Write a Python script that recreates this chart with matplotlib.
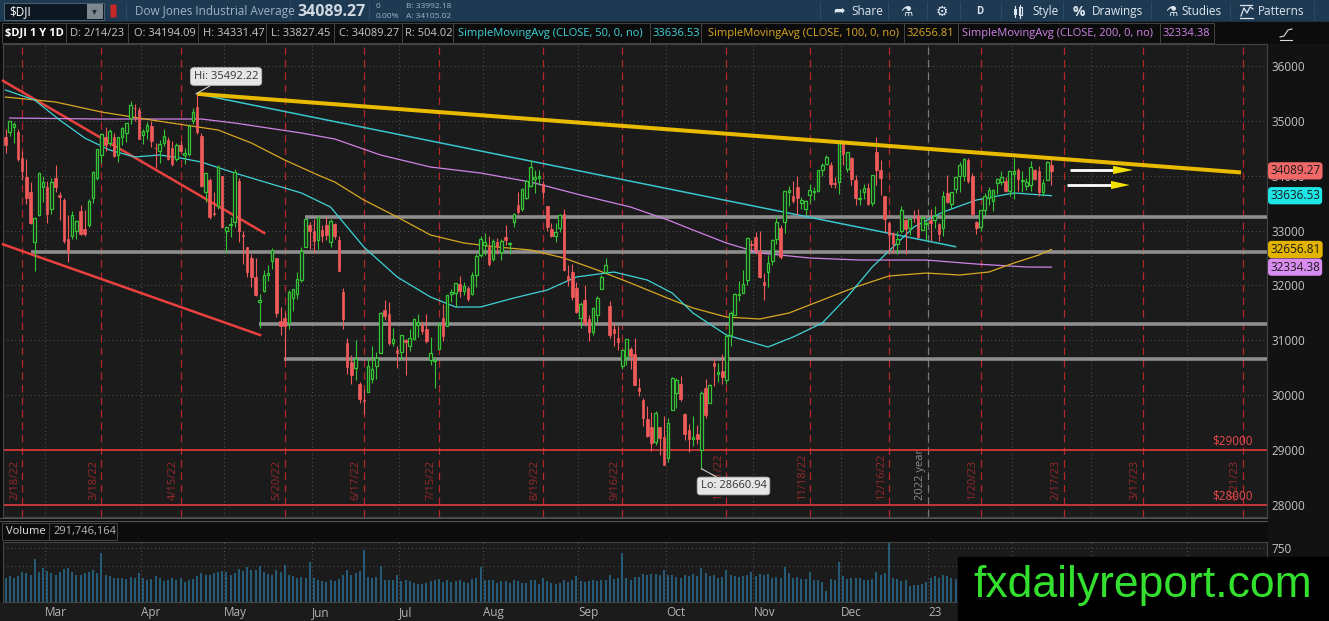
import matplotlib
matplotlib.use("Agg")
import matplotlib.pyplot as plt
from matplotlib.patches import Rectangle, FancyBboxPatch
import numpy as np
import pandas as pd

W, H = 1329, 621

# ---- data: $DJI daily bars, 2/14/22 .. 2/14/23 ----
opens = [
    34700, 34800, 34890, 34800, 34330, 33980, 33700, 32800, 33280, 33800,
    33790, 33400, 33950, 33650, 33550, 32850, 32900, 33000, 33350, 33030, 33100, 33600, 33950, 34380, 34700, 34600, 34700, 34370, 34700, 34780, 35050, 35230, 35200,
    34740, 34810, 34900, 34500, 34450, 34600, 34660, 34500, 34300, 34560, 34380, 34400, 35000, 35250, 34730, 33700, 33920, 33330, 33450, 33990,
    33000, 33100, 33150, 33900, 32900, 32700, 32500, 32150, 31700, 31900, 32200, 32450, 32500, 31360, 31400, 31320, 31770, 31840, 32100, 32700, 33100,
    33000, 32830, 33020, 33100, 32800, 33120, 32830, 31880, 30950, 30600, 30500, 30200, 29910, 30050, 30290, 30530, 30770, 31550, 31480, 30960, 30820,
    30780, 31000, 30900, 31020, 31280, 31280, 31200, 30650, 30630, 30850, 31400, 31260, 31840, 31860, 32020, 31900, 31960, 31850, 32200, 32560,
    32730, 32700, 32480, 32800, 32610, 32880, 32760, 33150, 33460, 33400, 33600, 33820, 33940, 33950, 33850, 33450, 33030, 32900, 33050, 33300, 32170, 32250, 31960,
    31410, 31740, 31390, 31150, 31470, 31930, 32250, 31630, 31200, 31040, 30540, 30700, 30850, 30760, 30130, 29920, 29560, 29420, 29140, 29430, 29230,
    28860, 29740, 30040, 30210, 29660, 29360, 29200, 29290, 29010, 30130, 29860, 30580, 30380, 30440, 30280, 31100, 31470, 31820, 31870, 32100, 32750,
    32880, 32630, 32070, 32240, 32450, 32850, 33040, 33160, 33700, 33630, 33800, 33500, 33400, 33650, 33700, 33730, 34100, 34220, 34200, 33870, 33880,
    34600, 34130, 34330, 33920, 33580, 33700, 33780, 33500, 34430, 34100, 33630, 33140, 32950, 32760, 32990, 33200, 33050, 33250, 33260, 33020, 33120,
    33200, 33200, 33120, 33040, 33680, 33480, 33750, 34000, 34000, 34290, 33990, 33160, 33060, 33370, 33600, 33540, 33870, 33890, 33900, 33730,
    34040, 34100, 33900, 33810, 33840, 34100, 34080, 33710, 33920, 34194.09,
]
highs = [
    34860, 35000, 34980, 34860, 34450, 34300, 33880, 33250, 34070, 34000,
    33910, 33950, 34200, 33700, 33600, 33280, 33350, 33200, 33470, 33370, 33570, 34090, 34490, 34770, 34880, 34860, 34770, 34710, 34890, 34960, 35370, 35300, 35250,
    34850, 34980, 34990, 34600, 34650, 34850, 34700, 34640, 34600, 34640, 34510, 34950, 35240, 35492.22, 34780, 34050, 33960, 33700, 34200, 34000,
    33080, 33250, 34120, 33950, 33000, 32700, 32570, 32510, 31840, 32290, 32380, 32680, 32500, 31600, 31520, 31910, 31930, 32240, 32700, 33220, 33150,
    33220, 33250, 33100, 33250, 33220, 33140, 32900, 31950, 31050, 30730, 31000, 30250, 30110, 30670, 30900, 30790, 31520, 31730, 31700, 31230, 30900,
    31100, 31020, 31200, 31400, 31480, 31350, 31480, 31070, 30670, 31330, 31660, 31830, 31940, 32050, 32180, 32070, 31990, 32240, 32580, 32900,
    32960, 32900, 32840, 32860, 32840, 33110, 32800, 33320, 33700, 33770, 33930, 34280, 34100, 34110, 33900, 33450, 33130, 33130, 33300, 33400, 32370, 32400, 32060,
    31700, 32000, 31460, 31600, 31800, 32200, 32500, 31720, 31300, 31270, 30830, 31030, 30880, 31040, 30320, 29950, 29810, 29700, 29720, 29430, 29620,
    29580, 30330, 30310, 30350, 29680, 29470, 29620, 29460, 30080, 30300, 30210, 30670, 30580, 30750, 31120, 31530, 31860, 32080, 32290, 32890, 32820,
    32970, 33000, 32230, 32560, 32840, 33260, 33110, 33730, 33810, 33910, 33990, 33620, 33560, 33850, 33800, 34100, 34240, 34380, 34250, 33980, 34590,
    34600, 34440, 34340, 34020, 33760, 33850, 33860, 34010, 34712, 34280, 33640, 33180, 32980, 32990, 33440, 33210, 33230, 33380, 33390, 33290, 33170,
    33400, 33450, 33140, 33730, 34010, 33710, 33980, 34250, 34320, 34330, 34050, 33180, 33380, 33690, 33800, 33760, 33950, 34080, 33980, 34090,
    34330, 34150, 34090, 33960, 34260, 34130, 34180, 33940, 34270, 34331.47,
]
lows = [
    34420, 34730, 34600, 34260, 33930, 33490, 33120, 32273, 33270, 33520,
    33130, 33300, 33710, 33200, 32780, 32430, 32850, 32850, 32920, 32900, 33060, 33500, 33920, 34230, 34460, 34550, 34350, 34250, 34560, 34610, 34950, 35000, 34670,
    34570, 34670, 34530, 34140, 34240, 34550, 34290, 34170, 34260, 34440, 34220, 34360, 34950, 34760, 33790, 33530, 33210, 33270, 33400, 33050,
    32600, 32890, 33070, 32800, 32400, 32150, 31970, 31800, 31230, 31880, 32080, 32300, 31430, 31100, 30640, 31200, 31540, 31760, 32070, 32700, 32660,
    32600, 32660, 32790, 32820, 32700, 32850, 32270, 31210, 30390, 30210, 30280, 29850, 29650, 30050, 30230, 30300, 30770, 31370, 30920, 30900, 30500,
    30640, 30370, 30800, 31000, 31060, 31110, 30950, 30550, 30140, 30850, 30990, 31260, 31700, 31600, 31790, 31830, 31720, 31830, 31980, 32520,
    32550, 32350, 32440, 32570, 32470, 32730, 32580, 33070, 33300, 33360, 33580, 33800, 33680, 33830, 33600, 33000, 32880, 32800, 32980, 32270, 31990, 31730, 31500,
    31230, 31260, 30980, 31100, 31330, 31930, 32250, 31050, 30900, 30820, 30480, 30560, 30480, 30180, 29980, 29440, 29230, 28990, 29100, 28920, 28720,
    28780, 29740, 29760, 29890, 29190, 28970, 29080, 29110, 28660.94, 29590, 29860, 30160, 30250, 30200, 30200, 30900, 31470, 31720, 31870, 32000, 32640,
    32580, 32130, 31730, 31980, 32380, 32750, 32490, 32950, 33450, 33500, 33280, 33400, 33280, 33500, 33560, 33700, 34000, 34220, 33800, 33780, 33660,
    34190, 34060, 33830, 33460, 33460, 33580, 33460, 33450, 33840, 33650, 32970, 32600, 32590, 32580, 32950, 32570, 32920, 33150, 32860, 33020, 32820,
    32810, 33040, 32810, 32900, 33500, 33400, 33690, 33700, 33900, 33860, 33260, 32940, 33000, 33260, 33470, 33350, 33660, 33840, 33700, 33640,
    33580, 33720, 33700, 33740, 33720, 33920, 33640, 33640, 33920, 33827.45,
]
closes = [
    34566, 34989, 34934, 34312, 34079, 33597, 33132, 33224, 34059, 33893,
    33294, 33891, 33795, 33615, 32818, 32633, 33287, 33174, 32944, 32945, 33545, 34063, 34481, 34754, 34553, 34808, 34358, 34708, 34862, 34955, 35294, 35228, 34678,
    34818, 34922, 34641, 34497, 34584, 34721, 34308, 34220, 34565, 34451, 34412, 34911, 35161, 34793, 33811, 34049, 33240, 33302, 34160, 33061,
    33062, 33129, 34061, 32998, 32899, 32246, 32161, 31834, 31730, 32197, 32223, 32655, 31490, 31253, 31262, 31881, 31929, 32120, 32637, 33213, 32990,
    32813, 33248, 32900, 32916, 33180, 32910, 32273, 31393, 30517, 30365, 30669, 29927, 29889, 30530, 30483, 30677, 31501, 31439, 30947, 31029, 30775,
    31097, 30968, 31037, 31385, 31338, 31174, 30981, 30773, 30630, 31288, 31073, 31827, 31875, 32037, 31899, 31990, 31762, 32198, 32530, 32845,
    32799, 32397, 32813, 32727, 32803, 32833, 32775, 33310, 33337, 33761, 33913, 34152, 33981, 33999, 33707, 33064, 32910, 32970, 33292, 32283, 32099, 31791, 31510,
    31656, 31318, 31146, 31581, 31775, 32152, 32381, 31105, 31135, 30962, 30822, 31020, 30706, 30184, 30077, 29590, 29261, 29135, 29684, 29226, 28726,
    29491, 30317, 30274, 29927, 29297, 29203, 29240, 29211, 30039, 29635, 30186, 30524, 30424, 30334, 31083, 31500, 31837, 31839, 32034, 32862, 32733,
    32653, 32148, 32001, 32403, 32827, 33161, 32514, 33716, 33748, 33537, 33593, 33554, 33547, 33746, 33700, 34098, 34195, 34347, 33850, 33853, 34590,
    34395, 34430, 33947, 33597, 33598, 33781, 33477, 34006, 34109, 33966, 33203, 32920, 32757, 32850, 33377, 33028, 33204, 33242, 32876, 33221, 33147,
    33137, 33270, 32930, 33631, 33518, 33704, 33974, 34190, 34303, 33911, 33297, 33045, 33375, 33630, 33734, 33744, 33949, 33978, 33717, 34086,
    34093, 33949, 33926, 33891, 34156, 33949, 33699, 33870, 34246, 34089.27,
]
volume_m = [
    330, 360, 340, 360, 420, 400, 380, 600, 420, 470,
    430, 400, 380, 410, 460, 470, 420, 370, 380, 400, 420, 450, 400, 680, 380, 360, 340, 330, 330, 320, 350, 330, 400,
    330, 300, 320, 360, 340, 290, 310, 330, 300, 340, 280, 300, 320, 360, 400, 380, 370, 400, 410, 430,
    420, 380, 400, 460, 430, 480, 450, 440, 500, 420, 390, 380, 450, 420, 520, 380, 360, 340, 350, 340, 560,
    330, 300, 290, 280, 300, 290, 320, 380, 450, 380, 400, 430, 720, 350, 330, 350, 500, 300, 310, 300, 380,
    290, 310, 290, 260, 250, 250, 260, 290, 300, 320, 280, 300, 280, 290, 300, 280, 270, 320, 330, 480,
    300, 310, 300, 270, 290, 290, 260, 300, 290, 270, 260, 300, 300, 250, 330, 290, 270, 250, 260, 310, 280, 300, 360,
    290, 280, 290, 300, 290, 300, 300, 380, 320, 330, 680, 330, 300, 350, 350, 390, 380, 390, 390, 380, 450,
    370, 380, 350, 340, 370, 360, 390, 360, 470, 400, 360, 380, 340, 350, 440, 370, 360, 350, 360, 380, 420,
    360, 390, 370, 390, 330, 350, 330, 480, 400, 330, 350, 320, 320, 420, 300, 300, 280, 150, 320, 310, 550,
    360, 320, 330, 330, 330, 300, 300, 320, 420, 380, 400, 820, 330, 320, 290, 300, 220, 240, 240, 250, 280,
    330, 360, 340, 370, 360, 330, 320, 360, 330, 350, 380, 370, 450, 330, 300, 330, 340, 320, 330, 380,
    370, 400, 380, 310, 330, 320, 340, 290, 290, 292,
]

# moving averages (bar number, value)
sma50_bars = [0, 7, 13, 19, 25, 31, 37, 42, 47, 55, 63, 71, 78, 86, 94, 102, 108, 114, 122, 130, 137, 146, 154, 160, 165, 173, 183, 189, 196, 202, 208, 213, 218, 225, 233, 242, 251]
sma50_vals = [35563, 35380, 35016, 34688, 34469, 34342, 34378, 34323, 34250, 34050, 33868, 33686, 33430, 32701, 32155, 31790, 31608, 31608, 31772, 31918, 32155, 32246, 32100, 31863, 31498, 31098, 30879, 31061, 31316, 31790, 32337, 32701, 33066, 33339, 33558, 33686, 33636.53]
sma100_bars = [0, 12, 23, 35, 43, 51, 59, 67, 75, 79, 86, 94, 102, 110, 118, 126, 134, 142, 150, 160, 165, 173, 181, 188, 196, 204, 212, 221, 229, 236, 242, 248, 251]
sma100_vals = [35435, 35344, 35162, 35016, 34925, 34834, 34597, 34287, 34013, 33886, 33558, 33248, 32920, 32774, 32701, 32647, 32501, 32282, 32045, 31735, 31590, 31426, 31389, 31498, 31735, 31972, 32173, 32227, 32191, 32246, 32410, 32556, 32656.81]
sma200_bars = [1, 23, 47, 55, 63, 71, 79, 90, 102, 114, 126, 138, 150, 159, 165, 173, 181, 193, 205, 221, 233, 245, 251]
sma200_vals = [35052, 35034, 35034, 34961, 34870, 34779, 34670, 34378, 34159, 34050, 33886, 33649, 33430, 33193, 33011, 32774, 32592, 32501, 32464, 32464, 32391, 32337, 32334.38]

# drawings on the chart (bar number, price)
hi_bar, hi_price = 46, 35492.22
lo_bar, lo_price = 167, 28660.94
yellow_trend = ([46, 296.5], [35492.22, 34060])
cyan_trend = ([46, 228], [35492.22, 32707])
red_trend_upper = ([-0.6, 62.1], [35730, 32957])
red_trend_lower = ([-0.6, 61.1], [32750, 31097])
support_starts = [71.9, 6.0, 60.8, 66.9]
support_levels = [33254, 32605, 31293, 30660]
price_lines = [29000, 28000]
expiry_labels = ['2/18/22', '3/18/22', '4/15/22', '5/20/22', '6/17/22', '7/15/22', '8/19/22', '9/16/22',
                 '10/21/22', '11/18/22', '12/16/22', '1/20/23', '2/17/23', '3/17/23', '4/21/23']
month_labels = ['Mar', 'Apr', 'May', 'Jun', 'Jul', 'Aug', 'Sep', 'Oct', 'Nov', 'Dec', '23', 'Feb', 'Mar', 'Apr']
month_starts = ['2022-03-01', '2022-04-01', '2022-05-01', '2022-06-01', '2022-07-01', '2022-08-01', '2022-09-01',
                '2022-10-01', '2022-11-01', '2022-12-01', '2023-01-01', '2023-02-01', '2023-03-01', '2023-04-01']
holidays = ['2022-02-21', '2022-04-15', '2022-05-30', '2022-06-20', '2022-07-04', '2022-09-05', '2022-11-24',
            '2022-12-26', '2023-01-02', '2023-01-16', '2023-02-20', '2023-04-07']

# trading calendar (incl. future space on the right)
days = pd.bdate_range('2022-02-14', '2023-05-31')
days = days[~days.isin(pd.to_datetime(holidays))]


def bar_of(date):
    return days.searchsorted(pd.Timestamp(date), side='right') - 1


# ---- colors ----
BG = '#1b1b1b'
GRID = '#555555'
UP = '#35c435'
DOWN = '#f05a5a'
C50 = '#3fd3d8'
C100 = '#d8a822'
C200 = '#cf82e6'
UI = 'Open Sans'

plt.rcParams['font.family'] = [UI, 'DejaVu Sans']

fig = plt.figure(figsize=(W / 100, H / 100), dpi=100)
fig.patch.set_facecolor('#0c0c0c')


def rect(x0, y0, x1, y1):
    return [x0 / W, 1 - y1 / H, (x1 - x0) / W, (y1 - y0) / H]


# background / UI layer in pixel coordinates
ui = fig.add_axes([0, 0, 1, 1], zorder=0)
ui.set_xlim(0, W)
ui.set_ylim(H, 0)
ui.axis('off')
ui.add_patch(Rectangle((0, 0), W, 22, color='#1e3a53'))
ui.add_patch(Rectangle((0, 22), W, 22, color='#0c0c0c'))
ui.add_patch(Rectangle((1267, 44), 62, 577, color='#121212'))
ui.add_patch(Rectangle((0, 517), 1267, 24, color='#0c0c0c'))
ui.add_patch(Rectangle((0, 602), 1267, 19, color=BG))
ui.plot([0, 1267], [518, 518], color='#555555', lw=0.8)
ui.plot([0, 1267], [521, 521], color='#555555', lw=0.8)

# toolbar
ui.add_patch(Rectangle((4, 3), 100, 17, fc='#0e1822', ec='#5a6a78', lw=0.6))
ui.add_patch(Rectangle((87, 4), 16, 15, fc='#7c8790', ec='none'))
ui.text(92, 11.5, '▾', color='#2a2a2a', fontsize=7, ha='left', va='center', family='DejaVu Sans')
ui.text(9, 11.5, '$DJI', color='white', fontsize=8.5, va='center')
ui.add_patch(FancyBboxPatch((111, 5), 5, 12, boxstyle='round,pad=0.5', fc='#c62828', ec='none'))
ui.text(135, 11.5, 'Dow Jones Industrial Average', color='#9fb3c5', fontsize=8.5, va='center')
ui.text(297, 11.5, '34089.27', color='#d0d8e0', fontsize=11.5, fontweight='bold', va='center')
ui.text(376, 7, '0', color='#9fb3c5', fontsize=6, va='center')
ui.text(376, 16, '0.00%', color='#9fb3c5', fontsize=6, va='center')
ui.text(406, 7, 'B: 33992.18', color='#9fb3c5', fontsize=6, va='center')
ui.text(406, 16, 'A: 34105.02', color='#9fb3c5', fontsize=6, va='center')
for xs in [126, 290, 369, 820, 888, 927, 960, 1001, 1063, 1151, 1230, 1314]:
    ui.plot([xs, xs], [2, 20], color='#2d4a63', lw=0.8)
tool_items = [(851, 'Share'), (1032, 'Style'), (1092, 'Drawings'), (1181, 'Studies'), (1258, 'Patterns')]
for tx, tt in tool_items:
    ui.text(tx, 11.5, tt, color='#dde6ee', fontsize=8.5, va='center')
ui.text(833, 11.5, '➦', color='#dde6ee', fontsize=10, va='center', family='DejaVu Sans')
ui.text(900, 11.5, '⚗', color='#dde6ee', fontsize=10, va='center', family='DejaVu Sans')
ui.text(936, 11.5, '⚙', color='#dde6ee', fontsize=10, va='center', family='DejaVu Sans')
ui.text(976, 11.5, 'D', color='#dde6ee', fontsize=7, fontweight='bold', va='center')
ui.text(1073, 11.5, '%', color='#dde6ee', fontsize=10, fontweight='bold', va='center')
ui.text(1165, 11.5, '⚗', color='#dde6ee', fontsize=10, va='center', family='DejaVu Sans')
# small style icon (two candles) and patterns icon
ui.plot([1015, 1015], [6, 17], color='#dde6ee', lw=0.8)
ui.add_patch(Rectangle((1013.5, 8.5), 3, 6, fc='#dde6ee', ec='none'))
ui.plot([1020, 1020], [5, 18], color='#dde6ee', lw=0.8)
ui.add_patch(Rectangle((1018.5, 7), 3, 8, fc='none', ec='#dde6ee', lw=0.8))
ui.plot([1240, 1252], [5, 5], color='#dde6ee', lw=0.9)
ui.plot([1241, 1244, 1247, 1250, 1253], [16, 8, 13, 7, 9], color='#dde6ee', lw=0.9)
ui.plot([1240, 1253], [18, 18], color='#dde6ee', lw=0.9)

# info row
info = [(5, '$DJI 1 Y 1D', '#ffffff', 'bold'), (70, 'D: 2/14/23', '#c8c8c8', 'normal'),
        (134, 'O: 34194.09', '#c8c8c8', 'normal'), (203, 'H: 34331.47', '#c8c8c8', 'normal'),
        (271, 'L: 33827.45', '#c8c8c8', 'normal'), (339, 'C: 34089.27', '#c8c8c8', 'normal'),
        (405, 'R: 504.02', '#c8c8c8', 'normal'), (458, 'SimpleMovingAvg (CLOSE, 50, 0, no)', C50, 'normal'),
        (653, '33636.53', C50, 'normal'), (708, 'SimpleMovingAvg (CLOSE, 100, 0, no)', C100, 'normal'),
        (907, '32656.81', C100, 'normal'), (962, 'SimpleMovingAvg (CLOSE, 200, 0, no)', C200, 'normal'),
        (1163, '32334.38', C200, 'normal')]
for tx, tt, tc, fw in info:
    ui.text(tx, 33.5, tt, color=tc, fontsize=8, fontweight=fw, va='center')
cells = [2, 66, 128, 198, 266, 334, 402, 453, 650, 701, 904, 958, 1160, 1214]
for a, b in zip(cells[:-1], cells[1:]):
    ui.add_patch(Rectangle((a, 23), b - a, 20, fc='none', ec='#444444', lw=0.7))
ui.add_patch(Rectangle((1268, 23), 54, 20, fc='#0c0c0c', ec='none'))
ui.plot([1280, 1292], [40, 40], color='#dddddd', lw=0.8)
ui.plot([1280, 1284, 1288, 1292], [37, 36, 30, 29], color='#dddddd', lw=0.8)

# volume header
ui.add_patch(Rectangle((2, 523), 47, 17, fc='none', ec='#444444', lw=0.7))
ui.add_patch(Rectangle((49, 523), 68, 17, fc='none', ec='#444444', lw=0.7))
ui.text(6, 531.5, 'Volume', color='#e0e0e0', fontsize=8, va='center')
ui.text(53, 531.5, '291,746,164', color='#b8b8b8', fontsize=8, va='center')

# ---- price panel ----
x = np.arange(len(closes))
o, h, l, c = map(np.array, (opens, highs, lows, closes))
up = c >= o
x_left, x_right = -0.6, -0.6 + 1264 / 4.167

ax = fig.add_axes(rect(3, 44, 1267, 517), zorder=2)
ax.set_facecolor(BG)
ax.set_xlim(x_left, x_right)
ax.set_ylim(27781, 36401)
for s in ax.spines.values():
    s.set_color('#444444')
    s.set_linewidth(0.8)
ax.yaxis.tick_right()
ax.set_yticks(range(28000, 36001, 1000))
ax.tick_params(axis='y', colors='#c4c4c4', labelsize=8.5, length=0, pad=3)
ax.set_xticks([])

for lev in range(28000, 36001, 1000):
    ax.axhline(lev, color=GRID, lw=0.7, ls=(0, (1, 3)), zorder=1)
month_pos = [days.searchsorted(pd.Timestamp(d)) - 0.5 for d in month_starts]
for mp in month_pos:
    ax.axvline(mp, color=GRID, lw=0.7, ls=(0, (1, 3)), zorder=1)

exp_pos = [bar_of(pd.to_datetime(d, format='%m/%d/%y')) for d in expiry_labels]
for ep, lab in zip(exp_pos, expiry_labels):
    ax.axvline(ep, color='#b3262b', lw=0.9, ls=(0, (6, 4)), zorder=1)
    ax.text(ep - 0.5, 28090, lab, rotation=90, ha='right', va='bottom', color='#96282b',
            fontsize=8, zorder=1, clip_on=True)

year_pos = days.searchsorted(pd.Timestamp('2023-01-03')) - 0.5
ax.axvline(year_pos, color='#7a7a7a', lw=0.9, ls=(0, (6, 4)), zorder=1)
ax.text(year_pos - 0.6, 28090, '2022 year', rotation=90, ha='right', va='bottom', color='#8a8a8a',
        fontsize=8, zorder=1)

for lev in price_lines:
    ax.axhline(lev, color='#e03a3a', lw=1.2, zorder=2)
    ax.text(299.2, lev + 40, f'${lev}', color='#e84a4a', fontsize=8.5, ha='right', va='bottom', zorder=2)

for st, lev in zip(support_starts, support_levels):
    ax.plot([st, x_right], [lev, lev], color='#8e8e8e', lw=2.6, solid_capstyle='butt', zorder=3)

ax.plot(*red_trend_upper, color='#e8413f', lw=1.8, zorder=3, clip_on=False)
ax.plot(*red_trend_lower, color='#e8413f', lw=1.8, zorder=3, clip_on=False)
ax.plot(*cyan_trend, color='#38c6cc', lw=1.1, zorder=3)
ax.plot(*yellow_trend, color='#e8bb00', lw=2.9, zorder=6, solid_capstyle='butt')

ax.plot(sma200_bars, sma200_vals, color=C200, lw=0.9, zorder=4)
ax.plot(sma100_bars, sma100_vals, color=C100, lw=0.9, zorder=4)
ax.plot(sma50_bars, sma50_vals, color=C50, lw=0.9, zorder=4)

# candles
ax.vlines(x[up], l[up], h[up], color=UP, lw=0.8, zorder=5)
ax.vlines(x[~up], l[~up], h[~up], color=DOWN, lw=0.8, zorder=5)
bottom = np.minimum(o, c)
body = np.maximum(np.abs(c - o), 15)
ax.bar(x[up], body[up], bottom=bottom[up], width=0.62, color=BG, edgecolor=UP, linewidth=0.9, zorder=5)
ax.bar(x[~up], body[~up], bottom=bottom[~up], width=0.62, color=DOWN, edgecolor=DOWN, linewidth=0.5, zorder=5)

# arrows on the right
for (x0, xb, xt, lev) in [(255.5, 265.8, 270.6, 34105), (254.7, 265.3, 269.8, 33831)]:
    ax.plot([x0, xb + 0.3], [lev, lev], color='white', lw=2.0, zorder=7, solid_capstyle='butt')
    ax.fill([xb, xb, xt], [lev + 75, lev - 75, lev], color='#f2e200', zorder=7, lw=0)

# hi / lo bubbles
box = dict(boxstyle='round,pad=0.3', fc='#e6e6e6', ec='#bdbdbd', lw=0.6)
ax.annotate('Hi: 35492.22', xy=(hi_bar - 0.3, hi_price), xytext=(45.2, 35809), ha='left', va='center',
            fontsize=8, color='#333333', bbox=box, zorder=9,
            arrowprops=dict(arrowstyle='-', color='#cfcfcf', lw=0.8, shrinkA=0, shrinkB=0))
ax.annotate('Lo: 28660.94', xy=(lo_bar, lo_price), xytext=(166.8, 28346), ha='left', va='center',
            fontsize=8, color='#333333', bbox=box, zorder=9,
            arrowprops=dict(arrowstyle='-', color='#cfcfcf', lw=0.8, shrinkA=0, shrinkB=0))

# price badges on the axis
badges = [(closes[-1], '#f06868'), (sma50_vals[-1], '#1ee6e6'), (sma100_vals[-1], '#e2b400'), (sma200_vals[-1], '#d98cf0')]
for val, col in badges:
    ax.text(1.0025, val, f'{val:.2f}', transform=ax.get_yaxis_transform(), ha='left', va='center',
            fontsize=8.5, color='#1a1a1a', clip_on=False, zorder=12,
            bbox=dict(boxstyle='round,pad=0.18,rounding_size=0.3', fc=col, ec='none'))

# ---- volume panel ----
axv = fig.add_axes(rect(3, 541.5, 1267, 602), zorder=2)
axv.set_facecolor(BG)
axv.set_xlim(x_left, x_right)
axv.set_ylim(0, 840)
for s in axv.spines.values():
    s.set_color('#444444')
    s.set_linewidth(0.8)
axv.yaxis.tick_right()
axv.set_yticks([750])
axv.tick_params(axis='y', colors='#c4c4c4', labelsize=8.5, length=0, pad=3)
for lev in (500, 750):
    axv.axhline(lev, color=GRID, lw=0.7, ls=(0, (1, 3)), zorder=1)
for mp in month_pos:
    axv.axvline(mp, color=GRID, lw=0.7, ls=(0, (1, 3)), zorder=1)
axv.vlines(x, 0, volume_m, color='#2a6f94', lw=1.1, zorder=2)
axv.set_xticks(month_pos)
axv.set_xticklabels(month_labels, ha='left')
axv.tick_params(axis='x', colors='#b4b4b4', labelsize=8.5, length=0, pad=3)

# ---- watermark ----
top = fig.add_axes([0, 0, 1, 1], zorder=20)
top.set_xlim(0, W)
top.set_ylim(H, 0)
top.axis('off')
top.patch.set_alpha(0)
top.add_patch(Rectangle((958, 556.5), 371, 65, color='#000000'))
top.text(1143, 586, 'fxdailyreport.com', color='#33e02e', fontsize=32, ha='center', va='center',
         family='Liberation Sans')

fig.savefig('out.png', dpi=100, facecolor=fig.get_facecolor())
